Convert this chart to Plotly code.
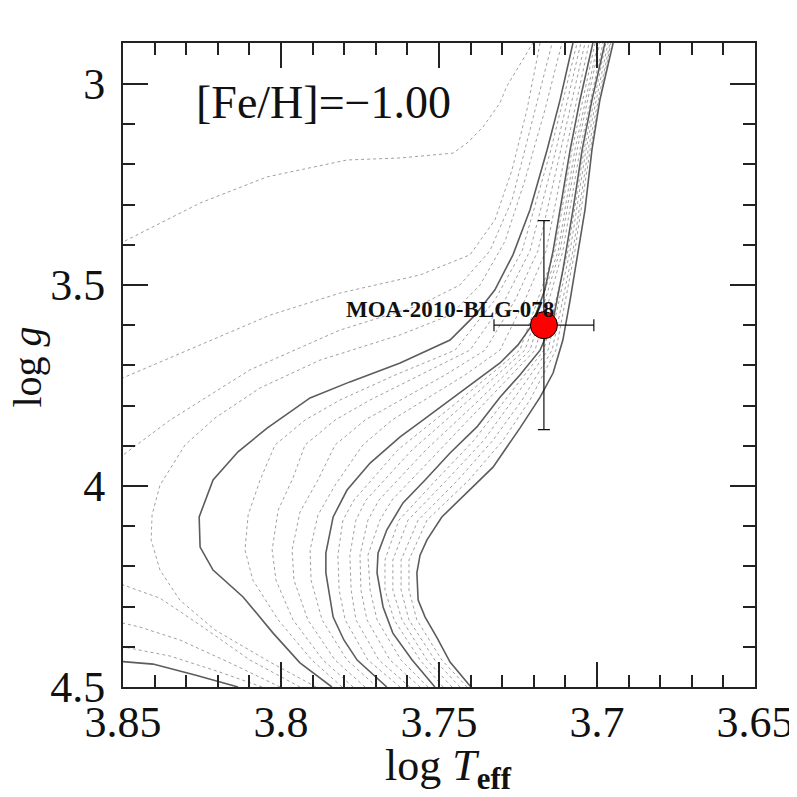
import plotly.graph_objects as go

# ---- evolutionary tracks, [Fe/H] = -1.00, lowest mass first ----
track_01_logT = [3.7399, 3.7465, 3.7506, 3.7544, 3.7566, 3.7570, 3.7560, 3.7538, 3.7491, 3.7411, 3.7329, 3.7244, 3.7180, 3.7139, 3.7108, 3.7085, 3.7060, 3.7038, 3.7016, 3.6991, 3.6949]
track_01_logg = [4.500, 4.438, 4.378, 4.326, 4.284, 4.216, 4.172, 4.134, 4.077, 4.015, 3.953, 3.856, 3.779, 3.719, 3.637, 3.537, 3.415, 3.313, 3.164, 3.040, 2.898]

track_02_logT = [3.7411, 3.7491, 3.7570, 3.7595, 3.7595, 3.7538, 3.7405, 3.7297, 3.7212, 3.7130, 3.7070, 3.7022, 3.6956]
track_02_logg = [4.500, 4.433, 4.333, 4.259, 4.184, 4.085, 3.985, 3.886, 3.786, 3.662, 3.415, 3.164, 2.898]

track_03_logT = [3.7434, 3.7513, 3.7595, 3.7620, 3.7620, 3.7566, 3.7440, 3.7329, 3.7237, 3.7142, 3.7076, 3.7028, 3.6959]
track_03_logg = [4.500, 4.433, 4.333, 4.259, 4.184, 4.085, 3.985, 3.886, 3.786, 3.662, 3.415, 3.164, 2.898]

track_04_logT = [3.7459, 3.7538, 3.7617, 3.7646, 3.7646, 3.7598, 3.7475, 3.7358, 3.7266, 3.7155, 3.7085, 3.7035, 3.6965]
track_04_logg = [4.500, 4.433, 4.333, 4.259, 4.184, 4.085, 3.985, 3.886, 3.786, 3.662, 3.415, 3.164, 2.898]

track_05_logT = [3.7487, 3.7560, 3.7642, 3.7671, 3.7671, 3.7627, 3.7509, 3.7389, 3.7291, 3.7168, 3.7092, 3.7041, 3.6972]
track_05_logg = [4.500, 4.433, 4.333, 4.259, 4.184, 4.085, 3.985, 3.886, 3.786, 3.662, 3.415, 3.164, 2.898]

track_06_logT = [3.7513, 3.7585, 3.7646, 3.7677, 3.7696, 3.7693, 3.7665, 3.7614, 3.7544, 3.7465, 3.7380, 3.7307, 3.7244, 3.7180, 3.7139, 3.7108, 3.7076, 3.7047, 3.7016, 3.6975]
track_06_logg = [4.500, 4.433, 4.366, 4.301, 4.216, 4.167, 4.109, 4.042, 3.985, 3.918, 3.853, 3.779, 3.724, 3.662, 3.587, 3.463, 3.313, 3.164, 3.040, 2.898]

track_07_logT = [3.7535, 3.7620, 3.7696, 3.7718, 3.7725, 3.7687, 3.7649, 3.7497, 3.7345, 3.7196, 3.7108, 3.7054, 3.6981]
track_07_logg = [4.500, 4.433, 4.333, 4.259, 4.172, 4.085, 4.035, 3.910, 3.786, 3.662, 3.415, 3.164, 2.898]

track_08_logT = [3.7560, 3.7655, 3.7728, 3.7747, 3.7750, 3.7725, 3.7690, 3.7541, 3.7373, 3.7212, 3.7117, 3.7063, 3.6991]
track_08_logg = [4.500, 4.433, 4.333, 4.259, 4.172, 4.085, 4.035, 3.910, 3.786, 3.662, 3.415, 3.164, 2.898]

track_09_logT = [3.7592, 3.7690, 3.7763, 3.7778, 3.7782, 3.7763, 3.7731, 3.7585, 3.7405, 3.7228, 3.7123, 3.7070, 3.6997]
track_09_logg = [4.500, 4.433, 4.333, 4.259, 4.172, 4.085, 4.035, 3.910, 3.786, 3.662, 3.415, 3.164, 2.898]

track_10_logT = [3.7623, 3.7725, 3.7797, 3.7816, 3.7820, 3.7804, 3.7769, 3.7630, 3.7434, 3.7244, 3.7133, 3.7079, 3.7006]
track_10_logg = [4.500, 4.433, 4.333, 4.259, 4.172, 4.085, 4.035, 3.910, 3.786, 3.662, 3.415, 3.164, 2.898]

track_11_logT = [3.7665, 3.7759, 3.7801, 3.7835, 3.7858, 3.7858, 3.7835, 3.7791, 3.7718, 3.7623, 3.7551, 3.7465, 3.7380, 3.7307, 3.7250, 3.7206, 3.7165, 3.7139, 3.7117, 3.7085, 3.7054, 3.7013]
track_11_logg = [4.500, 4.433, 4.383, 4.326, 4.216, 4.167, 4.077, 4.010, 3.943, 3.878, 3.836, 3.786, 3.736, 3.694, 3.649, 3.600, 3.512, 3.415, 3.313, 3.164, 3.040, 2.898]

track_12_logT = [3.7696, 3.7791, 3.7870, 3.7905, 3.7908, 3.7883, 3.7829, 3.7741, 3.7649, 3.7544, 3.7418, 3.7307, 3.7228, 3.7161, 3.7098, 3.7025]
track_12_logg = [4.500, 4.433, 4.333, 4.234, 4.159, 4.072, 3.998, 3.898, 3.836, 3.786, 3.724, 3.662, 3.537, 3.415, 3.164, 2.898]

track_13_logT = [3.7734, 3.7829, 3.7915, 3.7959, 3.7965, 3.7940, 3.7883, 3.7829, 3.7734, 3.7623, 3.7481, 3.7354, 3.7259, 3.7187, 3.7114, 3.7038]
track_13_logg = [4.500, 4.433, 4.333, 4.234, 4.159, 4.065, 3.985, 3.898, 3.836, 3.786, 3.724, 3.662, 3.537, 3.415, 3.164, 2.898]

track_14_logT = [3.7772, 3.7867, 3.7962, 3.8016, 3.8028, 3.8009, 3.7962, 3.7924, 3.7829, 3.7718, 3.7560, 3.7402, 3.7291, 3.7212, 3.7130, 3.7051]
track_14_logg = [4.500, 4.433, 4.333, 4.234, 4.159, 4.060, 3.980, 3.898, 3.836, 3.786, 3.724, 3.662, 3.537, 3.415, 3.164, 2.898]

track_15_logT = [3.7807, 3.7902, 3.8009, 3.8089, 3.8114, 3.8104, 3.8066, 3.8019, 3.7924, 3.7813, 3.7639, 3.7449, 3.7323, 3.7237, 3.7146, 3.7063]
track_15_logg = [4.500, 4.433, 4.333, 4.234, 4.159, 4.072, 3.985, 3.898, 3.836, 3.786, 3.724, 3.662, 3.537, 3.415, 3.164, 2.898]

track_16_logT = [3.7839, 3.7940, 3.8025, 3.8120, 3.8215, 3.8256, 3.8259, 3.8215, 3.8136, 3.8044, 3.7908, 3.7782, 3.7623, 3.7519, 3.7465, 3.7386, 3.7323, 3.7266, 3.7212, 3.7158, 3.7117, 3.7076]
track_16_logg = [4.500, 4.440, 4.366, 4.276, 4.209, 4.152, 4.077, 3.985, 3.915, 3.856, 3.781, 3.741, 3.694, 3.657, 3.637, 3.575, 3.512, 3.425, 3.313, 3.164, 3.040, 2.898]

track_17_logT = [3.7889, 3.8035, 3.8209, 3.8320, 3.8383, 3.8411, 3.8408, 3.8383, 3.8304, 3.8209, 3.8066, 3.7877, 3.7623, 3.7465, 3.7370, 3.7291, 3.7228, 3.7165, 3.7111]
track_17_logg = [4.500, 4.438, 4.358, 4.284, 4.209, 4.134, 4.072, 3.998, 3.898, 3.831, 3.756, 3.687, 3.624, 3.575, 3.500, 3.391, 3.239, 3.065, 2.898]

track_18_logT = [3.7940, 3.8098, 3.8256, 3.8383, 3.8500, 3.8557, 3.8579, 3.8557, 3.8500, 3.8351, 3.8098, 3.7813, 3.7560, 3.7434, 3.7339, 3.7269, 3.7212, 3.7142]
track_18_logg = [4.500, 4.433, 4.346, 4.279, 4.246, 4.184, 4.085, 4.010, 3.923, 3.836, 3.711, 3.612, 3.550, 3.500, 3.415, 3.289, 3.114, 2.898]

track_19_logT = [3.8003, 3.8161, 3.8320, 3.8446, 3.8500, 3.8699, 3.8731, 3.8668, 3.8500, 3.8256, 3.8035, 3.7813, 3.7560, 3.7402, 3.7323, 3.7269, 3.7222, 3.7180]
track_19_logg = [4.500, 4.440, 4.383, 4.351, 4.341, 4.184, 4.035, 3.836, 3.731, 3.649, 3.575, 3.520, 3.475, 3.425, 3.338, 3.214, 3.065, 2.898]

track_20_logT = [3.8060, 3.8193, 3.8351, 3.8500, 3.8763, 3.8826, 3.8699, 3.8500, 3.8256, 3.8044, 3.7791, 3.7623, 3.7456, 3.7411, 3.7361, 3.7307, 3.7285, 3.7244, 3.7203]
track_20_logg = [4.500, 4.463, 4.423, 4.400, 4.284, 3.910, 3.488, 3.393, 3.296, 3.231, 3.189, 3.184, 3.172, 3.147, 3.107, 3.047, 3.005, 2.953, 2.898]

track_21_logT = [3.8136, 3.8272, 3.8405, 3.8500, 3.8636]
track_21_logg = [4.500, 4.470, 4.443, 4.438, 4.428]

# solid tracks every fifth one
solid_tracks = [1, 6, 11, 16, 21]

# ---- target star ----
star_name = "MOA-2010-BLG-078"
star_logT = [3.7168]
star_logT_err = [0.0158]
star_logg = [3.600]
star_logg_err = [0.26]

metallicity_label = "[Fe/H]=\u22121.00"

x_tickvals = [3.85, 3.80, 3.75, 3.70, 3.65]
x_ticktext = ["3.85", "3.8", "3.75", "3.7", "3.65"]
y_tickvals = [3.0, 3.5, 4.0, 4.5]
y_ticktext = ["3", "3.5", "4", "4.5"]

tracks = [
    (1, track_01_logT, track_01_logg), (2, track_02_logT, track_02_logg),
    (3, track_03_logT, track_03_logg), (4, track_04_logT, track_04_logg),
    (5, track_05_logT, track_05_logg), (6, track_06_logT, track_06_logg),
    (7, track_07_logT, track_07_logg), (8, track_08_logT, track_08_logg),
    (9, track_09_logT, track_09_logg), (10, track_10_logT, track_10_logg),
    (11, track_11_logT, track_11_logg), (12, track_12_logT, track_12_logg),
    (13, track_13_logT, track_13_logg), (14, track_14_logT, track_14_logg),
    (15, track_15_logT, track_15_logg), (16, track_16_logT, track_16_logg),
    (17, track_17_logT, track_17_logg), (18, track_18_logT, track_18_logg),
    (19, track_19_logT, track_19_logg), (20, track_20_logT, track_20_logg),
    (21, track_21_logT, track_21_logg),
]

fig = go.Figure()

# dotted tracks first, solid on top
for idx, tx, ty in tracks:
    if idx not in solid_tracks:
        fig.add_trace(go.Scatter(x=tx, y=ty, mode="lines",
                                 line=dict(color="#a0a0a0", width=1, dash="dot"),
                                 hoverinfo="skip", showlegend=False))
for idx, tx, ty in tracks:
    if idx in solid_tracks:
        fig.add_trace(go.Scatter(x=tx, y=ty, mode="lines",
                                 line=dict(color="#5c5c5c", width=1.6),
                                 hoverinfo="skip", showlegend=False))

fig.add_trace(go.Scatter(
    x=star_logT, y=star_logg, mode="markers",
    marker=dict(size=27, color="#ff0000", line=dict(color="#000000", width=1)),
    error_x=dict(type="data", array=star_logT_err, color="#111111", thickness=1.2, width=6),
    error_y=dict(type="data", array=star_logg_err, color="#111111", thickness=1.2, width=6),
    showlegend=False, hoverinfo="skip"))

axis_common = dict(
    showline=True, linecolor="#222222", linewidth=2, mirror="allticks",
    ticks="inside", ticklen=25, tickwidth=1.5, tickcolor="#222222",
    showgrid=False, zeroline=False,
    tickfont=dict(family="Liberation Serif", size=44, color="#111111"),
)

fig.update_xaxes(range=[3.85, 3.65], tickmode="array", tickvals=x_tickvals, ticktext=x_ticktext,
                 minor=dict(ticks="inside", ticklen=12, tickwidth=1.5, tickcolor="#222222",
                            tickmode="linear", tick0=3.65, dtick=0.01),
                 ticklabelstandoff=-5, **axis_common)
fig.update_yaxes(range=[4.5, 2.898], tickmode="array", tickvals=y_tickvals, ticktext=y_ticktext,
                 minor=dict(ticks="inside", ticklen=12, tickwidth=1.5, tickcolor="#222222",
                            tickmode="linear", tick0=2.5, dtick=0.1),
                 ticklabelstandoff=7, **axis_common)

fig.add_annotation(x=star_logT[0], y=star_logg[0], xref="x", yref="y",
                   text="<b>" + star_name + "</b>", showarrow=False,
                   xanchor="right", yanchor="middle", xshift=12, yshift=16,
                   font=dict(family="Liberation Serif", size=23, color="#111111"))

fig.add_annotation(x=0.318, y=0.907, xref="paper", yref="paper", text=metallicity_label,
                   showarrow=False, xanchor="center", yanchor="middle",
                   font=dict(family="Liberation Serif", size=46, color="#111111"))

fig.add_annotation(x=0.411, y=-0.126, xref="paper", yref="paper",
                   text="log <i>T</i><sub><b>eff</b></sub>", showarrow=False,
                   xanchor="left", yanchor="middle",
                   font=dict(family="Liberation Serif", size=44, color="#111111"))
fig.add_annotation(x=-0.151, y=0.497, xref="paper", yref="paper",
                   text="log <i>g</i>", textangle=-90, showarrow=False,
                   xanchor="center", yanchor="middle",
                   font=dict(family="Liberation Serif", size=40, color="#111111"))

# page body adds an 8 px offset; margins compensate so the frame sits at 123..755 / 43..687
fig.update_layout(width=797, height=797,
                  margin=dict(l=115, r=50, t=35, b=118),
                  paper_bgcolor="white", plot_bgcolor="white")

fig.write_html("out.html")
